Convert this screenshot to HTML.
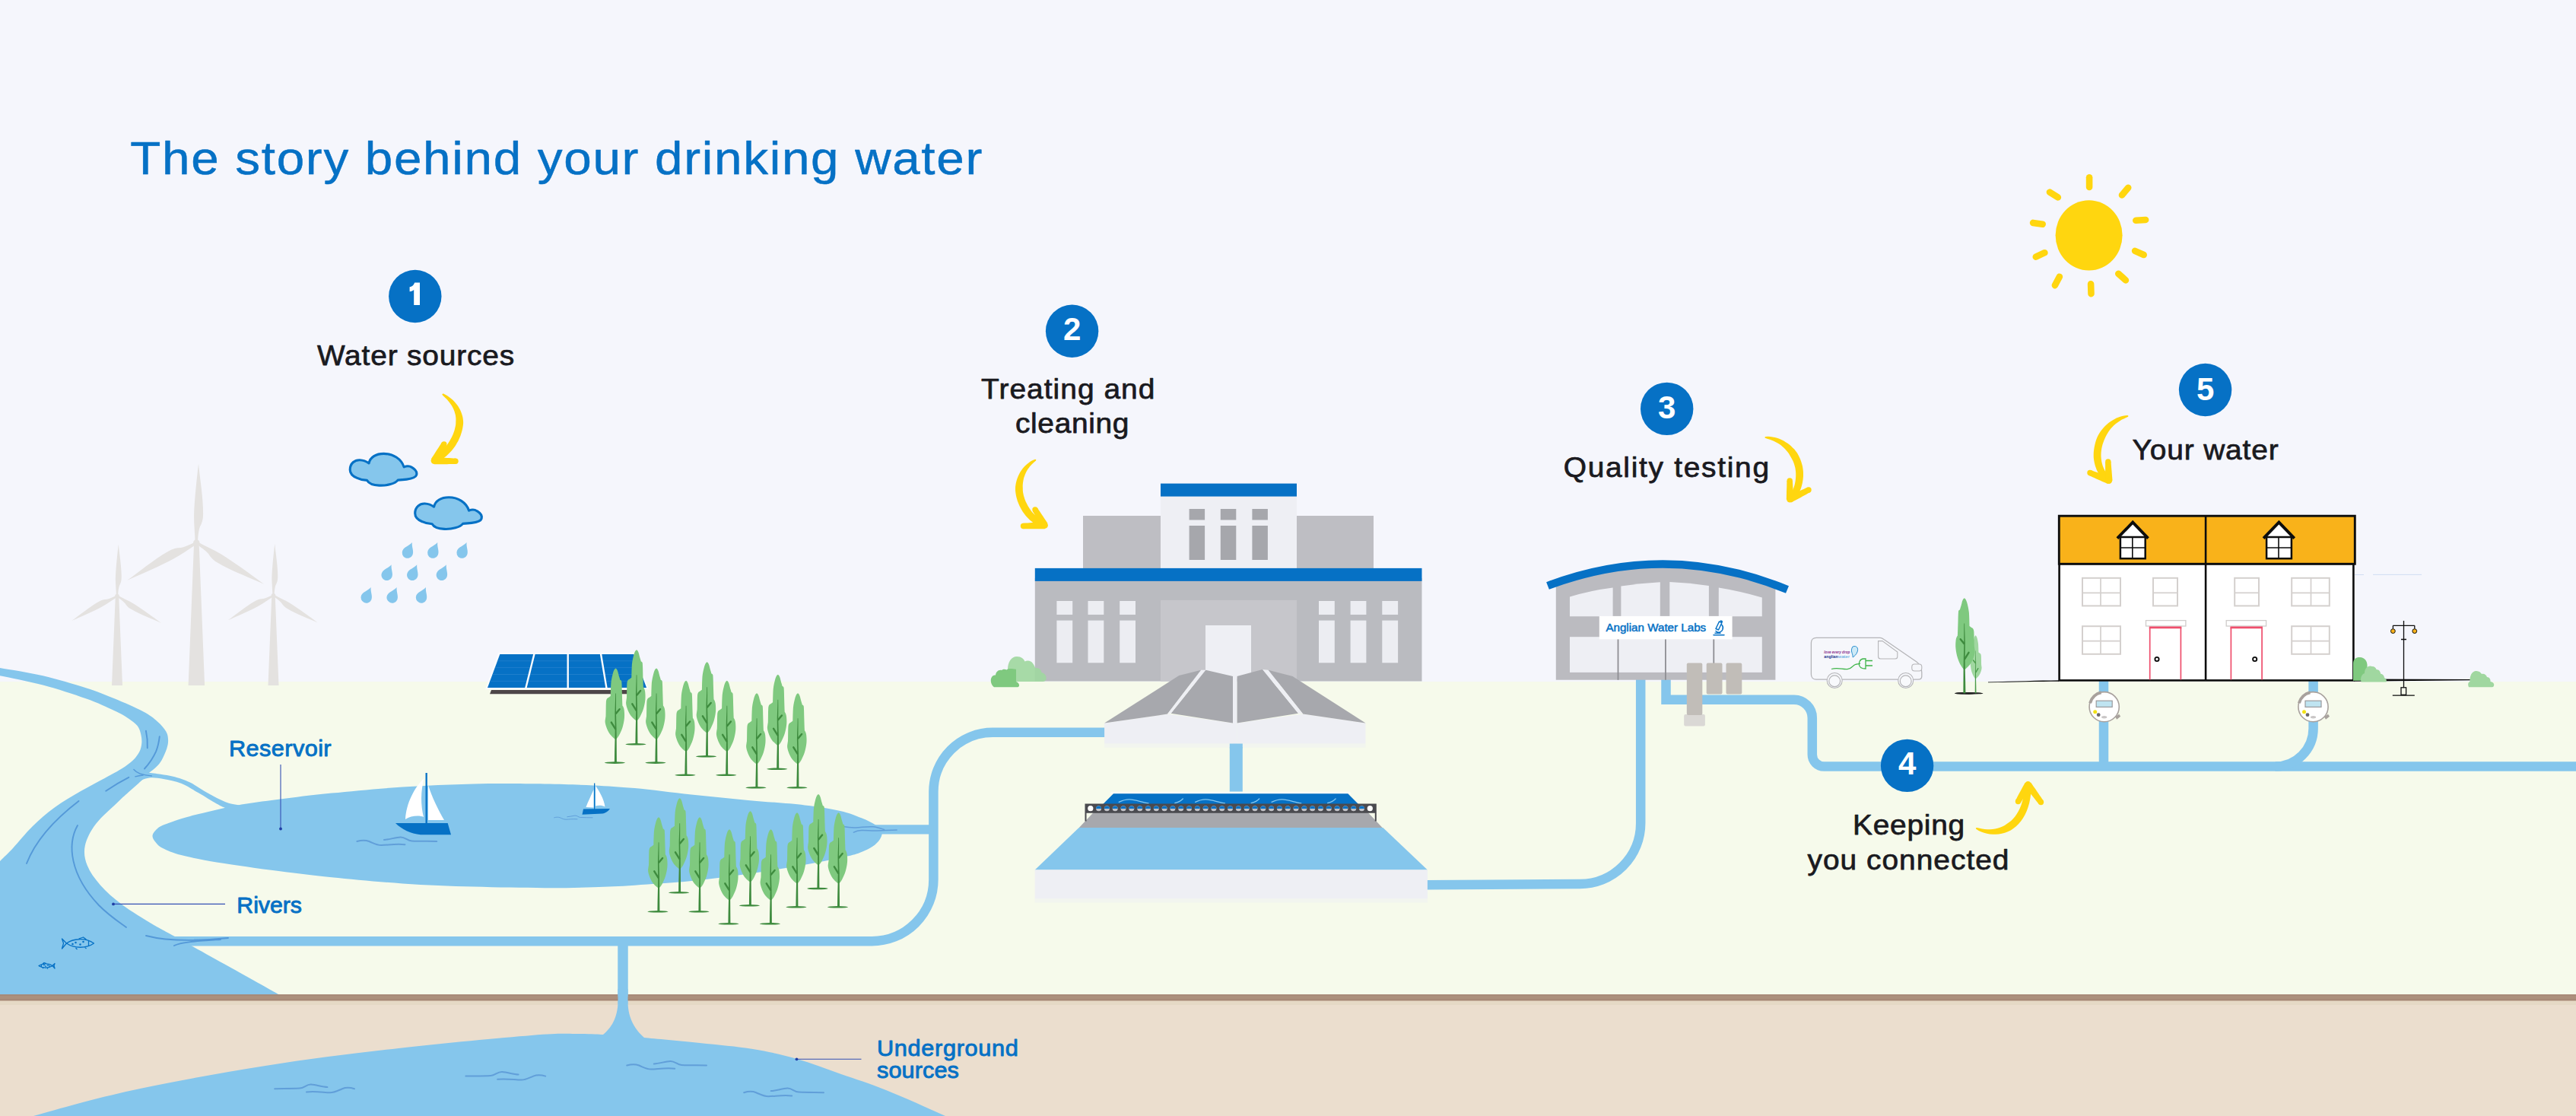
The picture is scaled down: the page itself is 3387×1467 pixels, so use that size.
<!DOCTYPE html>
<html lang="en"><head><meta charset="utf-8"><title>The story behind your drinking water</title>
<style>
html,body{margin:0;padding:0;background:#f5f6fc;}
body{width:3387px;height:1467px;overflow:hidden;font-family:"Liberation Sans",sans-serif;}
svg{display:block;font-family:"Liberation Sans",sans-serif;}
</style></head><body>
<svg width="3387" height="1467" viewBox="0 0 3387 1467">
<defs><symbol id="tree" overflow="visible"><ellipse cx="-1" cy="0" rx="13.6" ry="1.3" fill="#3e8b3e"/><path d="M0.2,-124 C2,-123 3,-120 3.6,-117 C4.6,-113 5.4,-111 5.9,-108.9 C7,-108.6 7.8,-108 7.9,-106.5 C8.3,-101 8.3,-97 8.4,-92.6 C8.6,-86 8.8,-80 9,-75 C10.2,-73.5 11.1,-71 11.3,-68.8 C11.7,-65 11.8,-62 11.5,-58.7 C11,-54 10.2,-50 9,-46.2 C7.8,-42.5 6.2,-39 4.6,-36.1 C3.6,-34.3 2.4,-32.6 1.5,-31.7 C0.6,-30.9 -0.7,-30.9 -1.6,-31.7 C-3.6,-33.4 -5.6,-35.4 -7.3,-37.4 C-9.4,-40.3 -11.1,-43.8 -12.3,-47.4 C-13.2,-50 -13.9,-52.5 -13.8,-55 C-13.7,-57 -13.1,-59 -12.9,-61.2 C-12.7,-67 -12.8,-74 -12.5,-80 C-12.3,-82.5 -11.5,-84.3 -10.4,-85 C-9,-86 -7.5,-86.8 -6.6,-87.6 C-6.5,-93 -6.4,-99 -6,-105 C-5.5,-109.5 -4.5,-114 -3.5,-117.7 C-2.7,-120.5 -1.5,-123.5 0.2,-124 Z" fill="#7fc97f"/><path d="M-1.5,0 C-1.4,-20 -0.2,-40 -0.9,-60 C-1.2,-70 -0.2,-80 -0.2,-91 L0.5,-91 C0.8,-80 0.4,-70 0.7,-60 C1.4,-40 1.3,-20 1.5,0 Z" fill="#3e8b3e"/><path d="M-0.3,-44.5 L-5.6,-53 M0.6,-64.8 L5.2,-70.4" stroke="#3e8b3e" stroke-width="2.4" fill="none" stroke-linecap="round"/></symbol><symbol id="treeB" overflow="visible"><ellipse cx="-1" cy="0" rx="13.6" ry="1.3" fill="#222"/><path d="M0.2,-124 C2,-123 3,-120 3.6,-117 C4.6,-113 5.4,-111 5.9,-108.9 C7,-108.6 7.8,-108 7.9,-106.5 C8.3,-101 8.3,-97 8.4,-92.6 C8.6,-86 8.8,-80 9,-75 C10.2,-73.5 11.1,-71 11.3,-68.8 C11.7,-65 11.8,-62 11.5,-58.7 C11,-54 10.2,-50 9,-46.2 C7.8,-42.5 6.2,-39 4.6,-36.1 C3.6,-34.3 2.4,-32.6 1.5,-31.7 C0.6,-30.9 -0.7,-30.9 -1.6,-31.7 C-3.6,-33.4 -5.6,-35.4 -7.3,-37.4 C-9.4,-40.3 -11.1,-43.8 -12.3,-47.4 C-13.2,-50 -13.9,-52.5 -13.8,-55 C-13.7,-57 -13.1,-59 -12.9,-61.2 C-12.7,-67 -12.8,-74 -12.5,-80 C-12.3,-82.5 -11.5,-84.3 -10.4,-85 C-9,-86 -7.5,-86.8 -6.6,-87.6 C-6.5,-93 -6.4,-99 -6,-105 C-5.5,-109.5 -4.5,-114 -3.5,-117.7 C-2.7,-120.5 -1.5,-123.5 0.2,-124 Z" fill="#7fc97f"/><path d="M-1.5,0 C-1.4,-20 -0.2,-40 -0.9,-60 C-1.2,-70 -0.2,-80 -0.2,-91 L0.5,-91 C0.8,-80 0.4,-70 0.7,-60 C1.4,-40 1.3,-20 1.5,0 Z" fill="#3e8b3e"/><path d="M-0.3,-44.5 L-5.6,-53 M0.6,-64.8 L5.2,-70.4" stroke="#3e8b3e" stroke-width="2.4" fill="none" stroke-linecap="round"/></symbol><symbol id="treeL" overflow="visible"><ellipse cx="-1" cy="0" rx="13.6" ry="1.3" fill="#222"/><path d="M0.2,-124 C2,-123 3,-120 3.6,-117 C4.6,-113 5.4,-111 5.9,-108.9 C7,-108.6 7.8,-108 7.9,-106.5 C8.3,-101 8.3,-97 8.4,-92.6 C8.6,-86 8.8,-80 9,-75 C10.2,-73.5 11.1,-71 11.3,-68.8 C11.7,-65 11.8,-62 11.5,-58.7 C11,-54 10.2,-50 9,-46.2 C7.8,-42.5 6.2,-39 4.6,-36.1 C3.6,-34.3 2.4,-32.6 1.5,-31.7 C0.6,-30.9 -0.7,-30.9 -1.6,-31.7 C-3.6,-33.4 -5.6,-35.4 -7.3,-37.4 C-9.4,-40.3 -11.1,-43.8 -12.3,-47.4 C-13.2,-50 -13.9,-52.5 -13.8,-55 C-13.7,-57 -13.1,-59 -12.9,-61.2 C-12.7,-67 -12.8,-74 -12.5,-80 C-12.3,-82.5 -11.5,-84.3 -10.4,-85 C-9,-86 -7.5,-86.8 -6.6,-87.6 C-6.5,-93 -6.4,-99 -6,-105 C-5.5,-109.5 -4.5,-114 -3.5,-117.7 C-2.7,-120.5 -1.5,-123.5 0.2,-124 Z" fill="#a0d7a0"/><path d="M-1.5,0 C-1.4,-20 -0.2,-40 -0.9,-60 C-1.2,-70 -0.2,-80 -0.2,-91 L0.5,-91 C0.8,-80 0.4,-70 0.7,-60 C1.4,-40 1.3,-20 1.5,0 Z" fill="#4a9a4a"/><path d="M-0.3,-44.5 L-5.6,-53 M0.6,-64.8 L5.2,-70.4" stroke="#4a9a4a" stroke-width="2.4" fill="none" stroke-linecap="round"/></symbol><symbol id="drop" overflow="visible"><path transform="rotate(24)" d="M0,-11.5 C1.5,-6 7.2,-2 7.2,3.3 A7.2,7.2 0 1 1 -7.2,3.3 C-7.2,-2 -1.5,-6 0,-11.5 Z" fill="#85c6ec"/></symbol><symbol id="cloud" overflow="visible"><path d="M1.6,22.5 C1.6,14 8,9.5 14.5,9.8 C19,10 23,11.5 26.5,14 C28,6 36,1.5 46,1.5 C58,1.5 69,8 72.5,19 C76,17.5 80,17.5 83,19.5 C88,22.5 90,26 89,29.5 C88,33 82,34.5 76,35.2 C72,35.7 68,36 64.5,36.2 C61,41 50,43.6 40,43.2 C32,42.8 26,40 24,36.5 C20,36.5 15,35.5 11,33.5 C5,31 1.6,27.5 1.6,22.5 Z" fill="#85c6ec" stroke="#0671c5" stroke-width="3.1" stroke-linejoin="round"/></symbol><symbol id="rotor" overflow="visible"><g fill="#e4e2e0"><path d="M-1.7,0 C-2.2,-12 -4,-24 -4.2,-36 C-4.2,-56 -1.6,-86 0,-104 C2,-86 7.4,-60 7.8,-38 C8,-31 6.6,-26 4,-21 C2.4,-16 1.7,-8 1.7,0 Z" transform="rotate(1.5)"/><path d="M-1.7,0 C-2.2,-12 -4,-24 -4.2,-36 C-4.2,-56 -1.6,-86 0,-104 C2,-86 7.4,-60 7.8,-38 C8,-31 6.6,-26 4,-21 C2.4,-16 1.7,-8 1.7,0 Z" transform="rotate(121.5)"/><path d="M-1.7,0 C-2.2,-12 -4,-24 -4.2,-36 C-4.2,-56 -1.6,-86 0,-104 C2,-86 7.4,-60 7.8,-38 C8,-31 6.6,-26 4,-21 C2.4,-16 1.7,-8 1.7,0 Z" transform="rotate(-118.5)"/><circle r="4.2"/></g></symbol><symbol id="ripple" overflow="visible"><path d="M0,0 C5,-1.5 11,-2 16,0 C22,2.5 26,5 32,5 C40,5 50,3 63,4.2 M35.6,-2.1 C42,-2.3 50,-5 57,-5.6 C63,-6 66,-1 72,-0.6 C84,0 95,-0.3 104.8,0" fill="none" stroke="#5a98d6" stroke-width="2" stroke-linecap="round" opacity="0.85"/></symbol><symbol id="meter" overflow="visible"><circle r="19.6" fill="#fff" stroke="#a8a19d" stroke-width="1.6"/><path d="M-18.6,-5 A19.3,19.3 0 0 1 -4,-18.9" fill="none" stroke="#a8a19d" stroke-width="4"/><path d="M14.5,13 L19.5,9.5 L21.5,12.5 L16.5,16.5 Z" fill="#a8a19d"/><rect x="-10.5" y="-8" width="21" height="8.2" fill="#bfe4f1" stroke="#9a9a9d" stroke-width="1.2"/><circle cx="-12" cy="6.5" r="2.5" fill="#f3e316"/><circle cx="-7.5" cy="10.5" r="2.4" fill="#6b676a"/><ellipse cx="0" cy="13.6" rx="3.6" ry="1.7" fill="#c9c6c6"/></symbol></defs>
<rect width="3387" height="1467" fill="#f5f6fc"/>
<rect x="0" y="896" width="3387" height="414" fill="#f6faeb"/>
<rect x="0" y="1314" width="3387" height="153" fill="#ebdece"/>
<rect x="0" y="1315" width="3387" height="6" fill="#e5d9c5"/>
<path d="M255.1,713.5 L261.6,713.5 L269.1,901 L247.6,901 Z" fill="#e4e2e0"/>
<use href="#rotor" transform="translate(258.3,713.5) scale(1.0)"/>
<path d="M151.8,783.5 L156.2,783.5 L161.0,901 L147.0,901 Z" fill="#e4e2e0"/>
<use href="#rotor" transform="translate(154,783.5) scale(0.655)"/>
<path d="M357.3,782.8 L361.7,782.8 L366.5,901 L352.5,901 Z" fill="#e4e2e0"/>
<use href="#rotor" transform="translate(359.5,782.8) scale(0.655)"/>
<path d="M-20.0,874.5 C-16.7,875.1 -12.7,875.6 0.0,877.9 C12.7,880.2 37.6,883.8 56.4,888.2 C75.2,892.6 97.2,899.2 112.9,904.2 C128.6,909.2 138.0,913.1 150.5,918.3 C163.0,923.5 178.7,930.3 188.1,935.3 C197.5,940.3 202.0,944.0 207.0,948.4 C212.0,952.8 216.0,957.5 218.3,961.6 C220.7,965.7 220.9,969.1 221.1,972.9 C221.2,976.7 220.6,979.8 219.2,984.2 C217.8,988.6 214.9,995.1 212.6,999.2 C210.2,1003.3 207.9,1005.8 205.1,1008.6 C202.3,1011.4 198.6,1013.6 195.7,1016.2 C192.8,1018.8 191.9,1020.5 187.8,1024.4 C183.7,1028.3 176.5,1034.5 171.0,1039.5 C165.5,1044.5 162.3,1047.2 154.8,1054.5 C147.3,1061.8 133.3,1073.5 126.1,1083.1 C118.9,1092.6 113.7,1102.7 111.8,1111.8 C109.9,1120.9 111.3,1129.0 114.7,1137.6 C118.1,1146.2 124.2,1154.8 131.9,1163.4 C139.6,1172.0 149.1,1180.6 160.6,1189.2 C172.1,1197.8 189.2,1208.1 200.7,1215.0 C212.2,1221.9 212.8,1221.6 229.4,1230.8 C246.0,1240.0 276.9,1257.1 300.0,1270.0 C323.1,1282.9 356.7,1301.7 368.0,1308.0 L368,1310 L-20,1310 L-20,1152  C-16.7,1148.7 -6.2,1138.1 0.0,1131.9 C6.2,1125.7 10.0,1122.4 17.2,1114.7 C24.4,1107.0 33.9,1094.8 43.0,1086.0 C52.1,1077.2 61.2,1069.2 71.7,1061.6 C82.2,1053.9 95.1,1046.5 106.1,1040.1 C117.1,1033.6 128.6,1027.8 137.6,1022.9 C146.6,1018.0 153.7,1014.5 159.9,1010.5 C166.1,1006.5 171.1,1003.0 175.0,999.2 C178.9,995.4 181.5,991.6 183.4,987.9 C185.3,984.1 186.0,980.5 186.3,976.7 C186.6,973.0 186.2,969.2 185.3,965.4 C184.4,961.6 183.3,957.5 180.6,954.1 C177.9,950.7 174.3,948.0 169.3,944.7 C164.3,941.4 159.9,938.7 150.5,934.3 C141.1,929.9 128.6,923.9 112.9,918.3 C97.2,912.7 75.2,905.5 56.4,900.5 C37.6,895.5 12.7,890.9 0.0,888.2 C-12.7,885.5 -16.7,885.1 -20.0,884.5 Z" fill="#85c6ec"/>
<path d="M185.0,1017.5 C186.5,1017.2 187.1,1015.3 194.0,1015.8 C200.9,1016.3 217.3,1018.4 226.6,1020.5 C235.9,1022.6 242.1,1024.9 249.9,1028.6 C257.7,1032.3 265.4,1038.3 273.2,1042.6 C281.0,1046.9 289.5,1051.6 296.5,1054.3 C303.5,1057.0 308.7,1057.5 315.1,1058.5 C321.5,1059.5 331.7,1059.8 335.0,1060.0 L335,1076  C329.0,1073.8 307.2,1066.3 298.8,1063.1 C290.4,1059.9 291.0,1060.0 284.8,1056.6 C278.6,1053.2 269.3,1047.1 261.5,1042.6 C253.7,1038.1 246.0,1032.9 238.2,1029.8 C230.4,1026.7 221.9,1025.2 214.9,1024.0 C207.9,1022.8 201.8,1021.9 196.0,1022.6 C190.2,1023.3 182.7,1027.1 180.0,1028.0 Z" fill="#85c6ec"/>
<path d="M200.5,1098.5 C200.7,1095.8 202.9,1092.9 205.5,1090.5 C208.1,1088.1 208.6,1086.9 216.0,1084.0 C223.4,1081.1 234.2,1077.1 249.9,1072.9 C265.6,1068.7 291.0,1062.6 310.4,1058.9 C329.8,1055.2 345.4,1053.5 366.4,1050.8 C387.4,1048.1 409.0,1045.3 436.2,1042.6 C463.4,1039.9 498.3,1036.5 529.4,1034.5 C560.5,1032.5 591.5,1031.2 622.6,1030.5 C653.7,1029.8 689.6,1030.2 715.8,1030.5 C742.0,1030.8 760.2,1031.5 780.0,1032.4 C799.8,1033.3 813.0,1034.1 834.5,1036.1 C856.0,1038.1 884.2,1041.9 909.1,1044.5 C934.0,1047.1 958.8,1049.6 983.6,1051.9 C1008.4,1054.2 1037.9,1056.1 1058.1,1058.4 C1078.3,1060.7 1092.3,1063.1 1104.7,1065.9 C1117.1,1068.7 1124.9,1072.1 1132.7,1075.2 C1140.5,1078.3 1146.8,1081.5 1151.3,1084.5 C1155.8,1087.5 1158.6,1089.9 1159.5,1093.0 C1160.4,1096.1 1158.9,1100.0 1156.9,1103.2 C1154.9,1106.5 1151.6,1109.7 1147.6,1112.5 C1143.6,1115.3 1138.3,1117.7 1132.7,1119.9 C1127.1,1122.1 1126.4,1122.7 1114.0,1125.5 C1101.6,1128.3 1079.8,1132.8 1058.1,1136.7 C1036.4,1140.6 1008.4,1145.2 983.6,1148.8 C958.8,1152.4 934.0,1155.6 909.1,1158.1 C884.2,1160.6 856.0,1162.3 834.5,1163.7 C813.0,1165.1 799.8,1165.6 780.0,1166.2 C760.2,1166.8 742.0,1167.3 715.8,1167.2 C689.6,1167.1 653.7,1166.6 622.6,1165.6 C591.5,1164.6 560.5,1163.5 529.4,1161.4 C498.3,1159.4 463.4,1156.0 436.2,1153.3 C409.0,1150.6 391.6,1148.4 366.4,1145.1 C341.2,1141.8 306.2,1137.0 284.8,1133.5 C263.4,1130.0 250.0,1127.2 238.2,1124.1 C226.4,1121.0 219.6,1117.8 214.0,1115.0 C208.4,1112.2 206.8,1109.8 204.5,1107.0 C202.2,1104.2 200.3,1101.2 200.5,1098.5 Z" fill="#85c6ec"/>
<path d="M-30.0,1490.0 C-17.7,1486.2 9.8,1476.5 44.0,1467.0 C78.2,1457.5 124.2,1444.0 175.0,1433.0 C225.8,1422.0 290.8,1410.2 349.0,1401.0 C407.2,1391.8 465.7,1384.7 524.0,1378.0 C582.3,1371.3 659.7,1364.2 699.0,1361.0 C738.3,1357.8 744.3,1359.2 760.0,1359.0 C775.7,1358.8 787.5,1359.8 793.0,1360.0 C803,1352 812.5,1338 812.5,1316 L812.5,1240 L825.5,1240 L825.5,1316 C825.5,1340 836,1354 847,1364  C859.2,1365.2 896.2,1368.5 920.0,1371.0 C943.8,1373.5 968.7,1375.5 990.0,1379.0 C1011.3,1382.5 1028.7,1386.5 1048.0,1392.0 C1067.3,1397.5 1086.5,1405.2 1106.0,1412.0 C1125.5,1418.8 1142.2,1423.8 1165.0,1433.0 C1187.8,1442.2 1220.5,1456.7 1243.0,1467.0 C1265.5,1477.3 1290.5,1490.3 1300.0,1495.0 L1300,1500 L-30,1500 Z" fill="#85c6ec"/>
<rect x="0" y="1307.3" width="3387" height="8" fill="#ac907c"/>
<rect x="0" y="1307.3" width="3387" height="1.6" fill="#a68876"/><rect x="0" y="1313.2" width="3387" height="2.1" fill="#a68876"/>
<rect x="812.5" y="1300" width="13" height="20" fill="#85c6ec"/>
<path d="M225,1237.2 H1146.4 A81,81 0 0 0 1227.4,1156.2 V1040.8 A78,78 0 0 1 1305.4,962.8 H1453" fill="none" stroke="#85c6ec" stroke-width="12.5" />
<path d="M1150,1090.3 H1227.4" fill="none" stroke="#85c6ec" stroke-width="12.3" />
<path d="M819,1237 V1310" fill="none" stroke="#85c6ec" stroke-width="13" />
<path d="M1625.3,982 V1040.8" fill="none" stroke="#85c6ec" stroke-width="17" />
<path d="M1876,1163.2 L2000,1162.4 L2077,1162 A80,80 0 0 0 2157.2,1082 V893" fill="none" stroke="#85c6ec" stroke-width="12.5" />
<path d="M2190.5,893 V919.7 H2358.8 A24,24 0 0 1 2382.8,943.7 V992 A15.5,15.5 0 0 0 2398.3,1007.5 H3400" fill="none" stroke="#85c6ec" stroke-width="12.5" />
<path d="M2766,894 V1007.5" fill="none" stroke="#85c6ec" stroke-width="12.5" />
<path d="M3041.6,894 V957.5 A50,50 0 0 1 2991.6,1007.5" fill="none" stroke="#85c6ec" stroke-width="12.5" />
<path d="M191.9,960.7 C193.5,968 194.2,976 193.8,983.2" fill="none" stroke="#4f93d6" stroke-width="1.9" stroke-linecap="round" opacity="0.9" />
<path d="M209.8,968.2 C209,975 207.5,982 205.1,987.9 C201,997 196,1004 190,1010.5" fill="none" stroke="#4f93d6" stroke-width="1.9" stroke-linecap="round" opacity="0.9" />
<path d="M175.9,1011.5 C178,1014 181,1016 184.4,1017.1 C189,1018.6 194,1019.5 199.4,1019.9" fill="none" stroke="#4f93d6" stroke-width="1.3" stroke-linecap="round" opacity="0.9" />
<path d="M177.8,1020.9 C181,1020 184.5,1019.3 188.1,1019" fill="none" stroke="#4f93d6" stroke-width="1.3" stroke-linecap="round" opacity="0.9" />
<path d="M169.3,1021.8 C159,1027 149,1033 139.2,1039.7" fill="none" stroke="#4f93d6" stroke-width="1.9" stroke-linecap="round" opacity="0.9" />
<path d="M103.5,1052.9 C72,1077 47,1104 35,1135" fill="none" stroke="#4f93d6" stroke-width="1.9" stroke-linecap="round" opacity="0.9" />
<path d="M102,1085 C88,1110 92,1150 130,1190 C145,1205 158,1213 166,1219" fill="none" stroke="#4f93d6" stroke-width="1.9" stroke-linecap="round" opacity="0.9" />
<path d="M192,1230 C215,1236 250,1238 300,1233" fill="none" stroke="#4f93d6" stroke-width="1.9" stroke-linecap="round" opacity="0.9" />
<path d="M229,1243 C240,1238 260,1237 290,1235" fill="none" stroke="#4f93d6" stroke-width="1.9" stroke-linecap="round" opacity="0.9" />
<use href="#ripple" transform="translate(469.4,1106)"/>
<use href="#ripple" transform="translate(728.7,1074.8) scale(0.48)"/>
<path d="M1110.3,1086.8 C1115,1087.8 1120,1088 1125.2,1087.9 C1133,1087.6 1140,1086.4 1147.6,1086.8 C1153,1087.2 1158,1089 1162.5,1090.5" fill="none" stroke="#5a98d6" stroke-width="1.5" stroke-linecap="round" opacity="0.85" />
<path d="M1122.4,1094.2 C1125.5,1092.6 1129,1091.8 1132.7,1091.6 C1139,1091.4 1145,1092.2 1151.3,1092 C1161,1091.7 1170,1091.2 1179.2,1091" fill="none" stroke="#5a98d6" stroke-width="1.5" stroke-linecap="round" opacity="0.85" />
<use href="#ripple" transform="translate(466,1431.2) scale(-1,1)"/>
<use href="#ripple" transform="translate(717.2,1414.6) scale(-1,1)"/>
<use href="#ripple" transform="translate(824.2,1400.5)"/>
<use href="#ripple" transform="translate(978.2,1436.2)"/>
<g transform="translate(103.5,1240) scale(1.0,1.0)" fill="none" stroke="#0671c5" stroke-width="1.30" stroke-linejoin="round"><path d="M-22,-6 L-16,0 L-22,7 L-20,0 Z M-16,0 C-8,-6 8,-8 20,0 C10,7 -6,7 -16,0 Z M0,-6 L6,-8 L10,-5 M-4,6 L-2,8 M8,5 L10,7 M13,-3 L13,3"/><circle cx="-4" cy="-1" r="0.6" fill="#0671c5"/><circle cx="2" cy="1.5" r="0.6" fill="#0671c5"/><circle cx="6" cy="-2" r="0.6" fill="#0671c5"/><circle cx="-8" cy="1" r="0.6" fill="#0671c5"/></g>
<g transform="translate(61,1269.5) scale(-0.5,0.5)" fill="none" stroke="#0671c5" stroke-width="2.60" stroke-linejoin="round"><path d="M-22,-6 L-16,0 L-22,7 L-20,0 Z M-16,0 C-8,-6 8,-8 20,0 C10,7 -6,7 -16,0 Z M0,-6 L6,-8 L10,-5 M-4,6 L-2,8 M8,5 L10,7 M13,-3 L13,3"/><circle cx="-4" cy="-1" r="0.6" fill="#0671c5"/><circle cx="2" cy="1.5" r="0.6" fill="#0671c5"/><circle cx="6" cy="-2" r="0.6" fill="#0671c5"/><circle cx="-8" cy="1" r="0.6" fill="#0671c5"/></g>
<polygon points="646,907 836,907 836,912.3 644,912.3" fill="#4d4648"/>
<polygon points="655.3,858 835.4,858 853.1,906.2 638,906.2" fill="#fbfcfe"/>
<polygon points="657.3,860 833.4,860 850.1,904.1 641,904.1" fill="#0671c5"/>
<path d="M654.0,868.8 L836.7,868.8 M650.8,877.6 L840.1,877.6 M647.5,886.5 L843.4,886.5 M644.3,895.3 L846.8,895.3" stroke="#3d8fd6" stroke-width="0.8" opacity="0.55" fill="none"/>
<line x1="702.5" y1="859.5" x2="691.3" y2="904.6" stroke="#fbfcfe" stroke-width="2.4"/>
<line x1="746.7" y1="859.5" x2="746.7" y2="904.6" stroke="#fbfcfe" stroke-width="2.4"/>
<line x1="790" y1="859.5" x2="797.5" y2="904.6" stroke="#fbfcfe" stroke-width="2.4"/>
<use href="#tree" x="836.9" y="978.3"/>
<use href="#tree" x="809.4" y="1002.6"/>
<use href="#tree" x="862.9" y="1002.6"/>
<use href="#tree" x="929.5" y="994.3"/>
<use href="#tree" x="901.9" y="1018.8"/>
<use href="#tree" x="955.7" y="1018.8"/>
<use href="#tree" x="1022.7" y="1010.8"/>
<use href="#tree" x="994.9" y="1035.3"/>
<use href="#tree" x="1048.9" y="1035.3"/>
<use href="#tree" x="893.6" y="1173.3"/>
<use href="#tree" x="865.9" y="1198.3"/>
<use href="#tree" x="919.9" y="1198.3"/>
<use href="#tree" x="986.4" y="1190.3"/>
<use href="#tree" x="958.9" y="1214.3"/>
<use href="#tree" x="1013.4" y="1214.3"/>
<use href="#tree" x="1075.9" y="1168.0"/>
<use href="#tree" x="1047.9" y="1192.3"/>
<use href="#tree" x="1102.5" y="1192.3"/>
<path d="M557.5,1023 C545,1035 534,1056 533,1077 C540,1072 552,1071.5 557,1074 C553,1058 553,1040 557.5,1023 Z" fill="#fff"/>
<path d="M563,1032 C568,1048 576,1064 584,1078 L563,1078 Z" fill="#fff"/>
<rect x="559.5" y="1016" width="2.3" height="66" fill="#0671c5"/>
<path d="M520,1082 L588.7,1082 L593,1097.2 L553,1097.2 C540,1096 528,1090 520,1082 Z" fill="#0671c5"/>
<path d="M780.5,1038 C777,1046 773,1054 770.5,1061 L780.5,1061.5 Z" fill="#fff"/>
<path d="M783,1033 C788,1040 794,1050 795.5,1060.5 C792,1058.5 787,1058.5 783,1059.5 Z" fill="#fff"/>
<rect x="781" y="1029.5" width="1.3" height="34.5" fill="#0671c5"/>
<path d="M767,1063.4 L802,1063 C800,1066 796,1069 792,1069.6 L765.5,1070.8 Z" fill="#0671c5"/>
<use href="#cloud" x="458.6" y="594.9"/>
<use href="#cloud" x="544.1" y="652.2"/>
<use href="#drop" x="537.2" y="723.6"/>
<use href="#drop" x="570.6" y="723.6"/>
<use href="#drop" x="608.9" y="723.6"/>
<use href="#drop" x="510" y="752.8"/>
<use href="#drop" x="543.6" y="752.8"/>
<use href="#drop" x="582.2" y="752.8"/>
<use href="#drop" x="483" y="782.5"/>
<use href="#drop" x="517" y="782.5"/>
<use href="#drop" x="555.3" y="782.5"/>
<ellipse cx="2746.6" cy="309.3" rx="44" ry="46.1" fill="#ffd60f"/>
<line x1="2747.1" y1="233.2" x2="2747.1" y2="246.0" stroke="#ffd60f" stroke-width="8.6" stroke-linecap="round"/>
<line x1="2790.0" y1="256.5" x2="2798.2" y2="246.7" stroke="#ffd60f" stroke-width="8.6" stroke-linecap="round"/>
<line x1="2808.3" y1="289.8" x2="2821.1" y2="289.0" stroke="#ffd60f" stroke-width="8.6" stroke-linecap="round"/>
<line x1="2807.1" y1="329.8" x2="2818.7" y2="335.0" stroke="#ffd60f" stroke-width="8.6" stroke-linecap="round"/>
<line x1="2785.3" y1="359.8" x2="2794.9" y2="368.4" stroke="#ffd60f" stroke-width="8.6" stroke-linecap="round"/>
<line x1="2749.1" y1="373.3" x2="2749.5" y2="386.1" stroke="#ffd60f" stroke-width="8.6" stroke-linecap="round"/>
<line x1="2701.9" y1="375.1" x2="2707.9" y2="363.7" stroke="#ffd60f" stroke-width="8.6" stroke-linecap="round"/>
<line x1="2676.8" y1="337.6" x2="2688.4" y2="332.2" stroke="#ffd60f" stroke-width="8.6" stroke-linecap="round"/>
<line x1="2673.1" y1="292.9" x2="2685.7" y2="294.7" stroke="#ffd60f" stroke-width="8.6" stroke-linecap="round"/>
<line x1="2695.0" y1="252.6" x2="2705.8" y2="259.4" stroke="#ffd60f" stroke-width="8.6" stroke-linecap="round"/>
<g fill="#ffd60f"><path d="M581.9,519.4 L583.7,521.2 L585.5,522.9 L587.2,524.6 L588.7,526.3 L590.1,528.0 L591.5,529.7 L592.7,531.4 L593.8,533.1 L594.8,534.8 L595.7,536.5 L596.5,538.2 L597.2,539.9 L597.7,541.6 L598.2,543.3 L598.7,545.0 L599.0,546.6 L599.2,548.3 L599.4,549.9 L599.4,551.5 L599.4,553.1 L599.3,554.6 L599.3,556.2 L599.2,557.7 L599.0,559.2 L598.6,561.3 L598.1,563.3 L597.6,565.4 L596.9,567.4 L596.2,569.4 L595.4,571.4 L594.5,573.4 L593.5,575.4 L592.5,577.3 L591.4,579.2 L590.3,581.1 L589.0,582.9 L587.8,584.7 L586.5,586.4 L585.1,588.1 L583.7,589.7 L582.2,591.2 L580.7,592.7 L579.2,594.1 L577.6,595.4 L576.0,596.6 L574.4,597.7 L572.7,598.7 L571.0,599.7 L575.0,607.3 L577.0,606.3 L579.0,605.1 L581.0,603.9 L583.0,602.5 L584.9,601.0 L586.8,599.5 L588.6,597.8 L590.4,596.1 L592.1,594.3 L593.8,592.4 L595.4,590.5 L596.9,588.5 L598.4,586.4 L599.8,584.3 L601.0,582.1 L602.3,579.9 L603.4,577.6 L604.4,575.3 L605.4,572.9 L606.2,570.5 L607.0,568.1 L607.6,565.7 L608.2,563.2 L608.6,560.8 L608.9,558.8 L609.1,556.7 L609.1,554.7 L609.0,552.7 L608.7,550.6 L608.4,548.6 L607.9,546.5 L607.3,544.5 L606.6,542.5 L605.8,540.6 L604.9,538.6 L603.9,536.7 L602.8,534.8 L601.6,533.0 L600.2,531.2 L598.8,529.4 L597.2,527.7 L595.6,526.0 L593.8,524.4 L591.9,522.9 L589.9,521.4 L587.8,520.0 L585.5,518.7 L583.1,517.6 Z"/><circle cx="582.5" cy="518.5" r="1.1"/><path d="M575.0,608.0 L576.2,605.8 L577.4,603.6 L578.7,601.4 L579.9,599.2 L581.0,597.0 L582.2,594.7 L583.4,592.5 L584.6,590.3 L585.8,588.1 L587.0,585.9 L580.6,582.1 L579.2,584.2 L577.9,586.3 L576.5,588.4 L575.1,590.5 L573.8,592.6 L572.4,594.7 L571.0,596.9 L569.7,599.0 L568.3,601.1 L567.0,603.2 Z"/><circle cx="583.8" cy="584.0" r="3.7"/><path d="M570.9,610.3 L573.7,610.3 L576.5,610.3 L579.3,610.2 L582.1,610.2 L584.9,610.2 L587.7,610.2 L590.5,610.1 L593.3,610.1 L596.1,610.0 L598.9,610.0 L599.1,602.6 L596.3,602.4 L593.5,602.2 L590.7,602.1 L587.9,601.9 L585.1,601.7 L582.3,601.5 L579.5,601.4 L576.7,601.2 L573.9,601.1 L571.1,600.9 Z"/><circle cx="599.0" cy="606.3" r="3.7"/><circle cx="571.0" cy="605.6" r="4.4"/></g>
<g fill="#ffd60f"><path d="M1360.6,603.9 L1358.4,604.7 L1356.3,605.8 L1354.3,607.1 L1352.4,608.4 L1350.5,609.9 L1348.8,611.4 L1347.2,613.0 L1345.6,614.8 L1344.2,616.6 L1342.8,618.4 L1341.6,620.3 L1340.5,622.3 L1339.4,624.4 L1338.5,626.4 L1337.7,628.6 L1336.9,630.7 L1336.3,632.9 L1335.8,635.1 L1335.4,637.4 L1335.1,639.6 L1335.0,641.9 L1335.0,644.2 L1335.2,646.5 L1335.5,648.7 L1335.9,651.2 L1336.4,653.6 L1337.1,656.1 L1337.8,658.4 L1338.7,660.8 L1339.6,663.1 L1340.7,665.4 L1341.8,667.6 L1343.0,669.8 L1344.3,671.9 L1345.7,674.0 L1347.2,675.9 L1348.7,677.9 L1350.3,679.7 L1352.0,681.5 L1353.7,683.2 L1355.5,684.8 L1357.4,686.3 L1359.2,687.8 L1361.2,689.1 L1363.1,690.3 L1365.2,691.5 L1367.2,692.5 L1369.2,693.4 L1372.8,685.6 L1371.1,684.7 L1369.4,683.8 L1367.8,682.8 L1366.2,681.7 L1364.7,680.6 L1363.2,679.3 L1361.7,678.0 L1360.2,676.5 L1358.8,675.0 L1357.4,673.5 L1356.1,671.9 L1354.9,670.2 L1353.7,668.5 L1352.6,666.7 L1351.5,664.9 L1350.5,663.0 L1349.5,661.1 L1348.6,659.2 L1347.8,657.3 L1347.1,655.3 L1346.5,653.3 L1345.9,651.3 L1345.5,649.3 L1345.1,647.3 L1344.9,645.5 L1344.8,643.7 L1344.8,641.9 L1344.7,640.1 L1344.7,638.3 L1344.8,636.4 L1345.0,634.6 L1345.3,632.7 L1345.6,630.9 L1346.0,629.0 L1346.5,627.2 L1347.2,625.4 L1347.9,623.6 L1348.7,621.8 L1349.5,620.0 L1350.5,618.3 L1351.6,616.6 L1352.8,615.0 L1354.0,613.3 L1355.4,611.8 L1356.8,610.2 L1358.4,608.7 L1360.0,607.3 L1361.8,605.7 Z"/><circle cx="1361.2" cy="604.8" r="1.1"/><path d="M1377.5,688.1 L1376.2,686.1 L1374.9,684.0 L1373.5,682.0 L1372.2,680.0 L1370.9,678.0 L1369.5,676.0 L1368.2,674.1 L1366.9,672.1 L1365.5,670.1 L1364.2,668.1 L1357.8,671.9 L1359.0,674.0 L1360.1,676.1 L1361.3,678.2 L1362.5,680.4 L1363.6,682.5 L1364.8,684.6 L1366.0,686.7 L1367.1,688.8 L1368.3,690.8 L1369.5,692.9 Z"/><circle cx="1361.0" cy="670.0" r="3.7"/><path d="M1373.3,685.8 L1370.5,686.0 L1367.7,686.2 L1364.9,686.4 L1362.1,686.6 L1359.3,686.8 L1356.6,687.0 L1353.8,687.2 L1351.0,687.4 L1348.2,687.6 L1345.4,687.8 L1345.6,695.2 L1348.4,695.2 L1351.2,695.2 L1354.0,695.2 L1356.8,695.2 L1359.7,695.2 L1362.5,695.2 L1365.3,695.2 L1368.1,695.2 L1370.9,695.2 L1373.7,695.2 Z"/><circle cx="1345.5" cy="691.5" r="3.7"/><circle cx="1373.5" cy="690.5" r="4.4"/></g>
<g fill="#ffd60f"><path d="M2321.5,576.1 L2324.3,576.9 L2327.0,577.7 L2329.6,578.7 L2332.1,579.7 L2334.5,580.9 L2336.9,582.2 L2339.1,583.6 L2341.3,585.1 L2343.3,586.7 L2345.3,588.5 L2347.1,590.3 L2348.8,592.2 L2350.5,594.2 L2352.0,596.3 L2353.3,598.5 L2354.6,600.7 L2355.9,602.9 L2357.1,605.2 L2358.1,607.6 L2359.0,610.0 L2359.7,612.5 L2360.4,615.1 L2360.8,617.7 L2361.1,620.4 L2361.2,622.1 L2361.2,623.9 L2361.2,625.7 L2361.1,627.4 L2361.0,629.2 L2360.8,630.8 L2360.6,632.5 L2360.3,634.1 L2360.0,635.7 L2359.6,637.2 L2359.2,638.7 L2358.8,640.1 L2358.3,641.5 L2357.8,642.8 L2357.3,644.0 L2356.7,645.2 L2356.2,646.3 L2355.6,647.3 L2355.0,648.3 L2354.4,649.2 L2353.9,649.9 L2353.3,650.6 L2352.8,651.2 L2352.1,651.8 L2357.9,658.2 L2358.7,657.5 L2359.7,656.5 L2360.6,655.5 L2361.5,654.4 L2362.3,653.2 L2363.2,652.0 L2364.0,650.7 L2364.7,649.3 L2365.5,647.9 L2366.2,646.3 L2366.8,644.8 L2367.5,643.1 L2368.1,641.4 L2368.6,639.7 L2369.1,637.9 L2369.6,636.0 L2370.0,634.1 L2370.3,632.2 L2370.6,630.2 L2370.8,628.2 L2371.0,626.1 L2371.0,624.0 L2371.0,621.9 L2370.9,619.6 L2370.5,616.3 L2370.0,613.1 L2369.2,610.0 L2368.3,606.9 L2367.2,603.9 L2365.9,601.0 L2364.5,598.2 L2363.0,595.5 L2361.1,593.0 L2359.2,590.6 L2357.0,588.4 L2354.8,586.3 L2352.5,584.3 L2350.0,582.5 L2347.5,580.9 L2344.9,579.3 L2342.2,578.0 L2339.4,576.8 L2336.6,575.8 L2333.7,575.0 L2330.7,574.4 L2327.7,574.0 L2324.7,573.8 L2321.7,573.9 Z"/><circle cx="2321.6" cy="575.0" r="1.1"/><path d="M2358.2,656.1 L2358.1,653.7 L2358.0,651.3 L2357.8,648.9 L2357.7,646.5 L2357.6,644.0 L2357.5,641.6 L2357.3,639.2 L2357.2,636.8 L2357.0,634.4 L2356.9,632.0 L2349.5,632.0 L2349.4,634.5 L2349.3,636.9 L2349.3,639.3 L2349.2,641.7 L2349.1,644.2 L2349.0,646.6 L2349.0,649.0 L2348.9,651.4 L2348.9,653.8 L2348.8,656.3 Z"/><circle cx="2353.2" cy="632.0" r="3.7"/><path d="M2355.6,660.4 L2358.0,659.1 L2360.4,657.8 L2362.8,656.5 L2365.2,655.2 L2367.6,653.9 L2370.0,652.6 L2372.4,651.3 L2374.8,650.0 L2377.2,648.6 L2379.6,647.3 L2376.4,640.7 L2373.9,641.8 L2371.4,642.9 L2368.9,644.1 L2366.4,645.2 L2363.9,646.3 L2361.4,647.4 L2358.9,648.6 L2356.4,649.7 L2353.9,650.9 L2351.4,652.0 Z"/><circle cx="2378.0" cy="644.0" r="3.7"/><circle cx="2353.5" cy="656.2" r="4.4"/></g>
<g fill="#ffd60f"><path d="M2797.0,545.9 L2794.1,546.2 L2791.2,546.7 L2788.4,547.5 L2785.6,548.5 L2782.8,549.6 L2780.2,550.9 L2777.6,552.4 L2775.1,554.0 L2772.6,555.8 L2770.3,557.7 L2768.1,559.8 L2766.0,562.0 L2763.9,564.4 L2762.1,566.8 L2760.3,569.4 L2758.7,572.2 L2757.4,575.1 L2756.2,578.1 L2755.2,581.2 L2754.4,584.4 L2753.7,587.7 L2753.2,591.0 L2752.8,594.4 L2752.7,597.9 L2752.7,599.9 L2752.8,601.8 L2753.0,603.7 L2753.3,605.5 L2753.6,607.3 L2754.0,609.1 L2754.4,610.8 L2754.9,612.5 L2755.5,614.2 L2756.1,615.8 L2756.7,617.4 L2757.4,618.9 L2758.2,620.4 L2758.9,621.8 L2759.7,623.2 L2760.6,624.5 L2761.4,625.8 L2762.3,627.1 L2763.3,628.2 L2764.2,629.4 L2765.2,630.4 L2766.2,631.4 L2767.2,632.4 L2768.1,633.2 L2773.9,626.8 L2773.1,626.1 L2772.4,625.3 L2771.6,624.5 L2770.9,623.7 L2770.2,622.8 L2769.5,621.8 L2768.9,620.8 L2768.2,619.8 L2767.6,618.7 L2767.0,617.5 L2766.4,616.3 L2765.8,615.1 L2765.3,613.8 L2764.8,612.5 L2764.4,611.2 L2764.0,609.8 L2763.7,608.5 L2763.3,607.0 L2763.1,605.6 L2762.9,604.1 L2762.7,602.6 L2762.6,601.1 L2762.5,599.6 L2762.5,598.1 L2762.6,595.1 L2762.9,592.2 L2763.3,589.4 L2763.9,586.7 L2764.6,584.0 L2765.5,581.4 L2766.4,578.9 L2767.5,576.5 L2768.6,574.1 L2769.8,571.7 L2771.1,569.4 L2772.5,567.2 L2774.1,565.1 L2775.7,563.1 L2777.4,561.2 L2779.3,559.3 L2781.3,557.6 L2783.3,555.9 L2785.5,554.4 L2787.7,552.9 L2790.0,551.6 L2792.5,550.4 L2795.0,549.2 L2797.6,548.1 Z"/><circle cx="2797.3" cy="547.0" r="1.1"/><path d="M2774.6,627.3 L2772.1,626.3 L2769.5,625.4 L2767.0,624.5 L2764.5,623.5 L2762.0,622.6 L2759.5,621.7 L2757.0,620.8 L2754.4,619.9 L2751.9,619.0 L2749.4,618.1 L2746.6,624.9 L2749.0,626.0 L2751.5,627.2 L2753.9,628.3 L2756.4,629.4 L2758.8,630.5 L2761.2,631.6 L2763.7,632.7 L2766.1,633.8 L2768.6,634.8 L2771.0,635.9 Z"/><circle cx="2748.0" cy="621.5" r="3.7"/><path d="M2777.5,631.4 L2777.3,629.0 L2777.1,626.5 L2776.9,624.0 L2776.7,621.6 L2776.5,619.1 L2776.3,616.7 L2776.1,614.2 L2775.9,611.8 L2775.7,609.3 L2775.5,606.8 L2768.1,607.2 L2768.1,609.6 L2768.1,612.1 L2768.1,614.5 L2768.1,617.0 L2768.1,619.5 L2768.1,621.9 L2768.1,624.4 L2768.1,626.9 L2768.1,629.3 L2768.1,631.8 Z"/><circle cx="2771.8" cy="607.0" r="3.7"/><circle cx="2772.8" cy="631.6" r="4.4"/></g>
<g fill="#ffd60f"><path d="M2598.6,1090.0 L2601.7,1092.0 L2605.1,1093.5 L2608.7,1094.8 L2612.4,1095.7 L2616.2,1096.4 L2620.1,1096.7 L2624.0,1096.7 L2628.0,1096.4 L2632.0,1095.8 L2636.0,1094.7 L2639.9,1093.3 L2643.7,1091.4 L2647.3,1089.0 L2650.8,1086.2 L2654.1,1083.0 L2657.1,1079.4 L2659.9,1075.4 L2662.5,1071.0 L2664.7,1066.2 L2666.6,1061.0 L2668.2,1055.5 L2669.4,1049.5 L2670.3,1043.1 L2670.8,1036.4 L2662.2,1035.6 L2661.5,1042.0 L2660.5,1047.8 L2659.1,1053.1 L2657.6,1058.0 L2655.8,1062.4 L2653.8,1066.5 L2651.7,1070.1 L2649.3,1073.4 L2646.9,1076.3 L2644.2,1078.9 L2641.5,1081.1 L2638.6,1083.1 L2635.8,1084.9 L2632.8,1086.4 L2629.7,1087.7 L2626.5,1088.8 L2623.3,1089.5 L2619.9,1090.0 L2616.6,1090.3 L2613.1,1090.3 L2609.7,1090.0 L2606.3,1089.5 L2602.9,1088.8 L2599.4,1088.0 Z"/><circle cx="2599.0" cy="1089.0" r="1.1"/><path d="M2662.5,1029.1 L2661.2,1031.4 L2660.0,1033.6 L2658.8,1035.8 L2657.6,1038.1 L2656.4,1040.3 L2655.1,1042.6 L2653.9,1044.8 L2652.7,1047.1 L2651.5,1049.4 L2650.3,1051.6 L2656.7,1055.4 L2658.1,1053.2 L2659.5,1051.1 L2660.9,1049.0 L2662.3,1046.8 L2663.6,1044.7 L2665.0,1042.5 L2666.4,1040.4 L2667.8,1038.2 L2669.2,1036.0 L2670.5,1033.9 Z"/><circle cx="2653.5" cy="1053.5" r="3.7"/><path d="M2662.8,1034.3 L2664.5,1036.5 L2666.3,1038.8 L2668.0,1041.0 L2669.8,1043.3 L2671.6,1045.5 L2673.4,1047.8 L2675.2,1050.0 L2676.9,1052.2 L2678.7,1054.5 L2680.5,1056.7 L2686.5,1052.3 L2684.9,1049.9 L2683.3,1047.6 L2681.6,1045.2 L2680.0,1042.8 L2678.4,1040.5 L2676.8,1038.1 L2675.2,1035.8 L2673.5,1033.4 L2671.9,1031.1 L2670.2,1028.7 Z"/><circle cx="2683.5" cy="1054.5" r="3.7"/><circle cx="2666.5" cy="1031.5" r="4.4"/></g>
<rect x="1424" y="678" width="382" height="70" fill="#bebec3"/>
<rect x="1526" y="650" width="179" height="98" fill="#eeeff4"/>
<rect x="1526" y="635.6" width="179" height="17" fill="#0671c5"/>
<rect x="1563.6" y="669" width="20.5" height="14.5" fill="#a6a7ac"/><rect x="1563.6" y="691" width="20.5" height="45" fill="#a6a7ac"/>
<rect x="1604.8" y="669" width="20.5" height="14.5" fill="#a6a7ac"/><rect x="1604.8" y="691" width="20.5" height="45" fill="#a6a7ac"/>
<rect x="1646.4" y="669" width="20.5" height="14.5" fill="#a6a7ac"/><rect x="1646.4" y="691" width="20.5" height="45" fill="#a6a7ac"/>
<rect x="1360.8" y="760" width="508.7" height="135.5" fill="#babbc0"/>
<rect x="1360.8" y="746.9" width="508.7" height="17" fill="#0671c5"/>
<rect x="1526" y="789" width="179" height="106.5" fill="#c6c6cb"/>
<rect x="1585" y="822" width="60" height="70" fill="#eeeff4"/>
<rect x="1389.4" y="790" width="20.8" height="18" fill="#ecedf2"/><rect x="1389.4" y="815.6" width="20.8" height="55.7" fill="#ecedf2"/>
<rect x="1430.5" y="790" width="20.8" height="18" fill="#ecedf2"/><rect x="1430.5" y="815.6" width="20.8" height="55.7" fill="#ecedf2"/>
<rect x="1472.2" y="790" width="20.8" height="18" fill="#ecedf2"/><rect x="1472.2" y="815.6" width="20.8" height="55.7" fill="#ecedf2"/>
<rect x="1734" y="790" width="20.8" height="18" fill="#ecedf2"/><rect x="1734" y="815.6" width="20.8" height="55.7" fill="#ecedf2"/>
<rect x="1775.6" y="790" width="20.8" height="18" fill="#ecedf2"/><rect x="1775.6" y="815.6" width="20.8" height="55.7" fill="#ecedf2"/>
<rect x="1817.3" y="790" width="20.8" height="18" fill="#ecedf2"/><rect x="1817.3" y="815.6" width="20.8" height="55.7" fill="#ecedf2"/>
<path d="M1325,896 V880 C1325,870 1330,863 1337,863 C1343,863 1346,866 1347.5,869.5 C1351,867.5 1356,868.5 1358,872 C1360,875 1361,877 1361,878 C1366,877.5 1369,880 1369.5,884 C1374,885 1376.5,889 1375.5,893 C1375,895 1373,896 1371,896 Z" fill="#a0d7a0" opacity="0.93"/>
<path d="M1307,903.3 C1303,900 1301.5,894 1304,890 C1305,888 1307,887.5 1309,887.5 C1309.5,883 1313,880 1317,881 C1319,879 1322,879.5 1323.5,880.5 C1326,878.5 1330,879 1336,879.7 V896 C1339,897 1340.5,899.5 1340,901.5 C1339.7,902.8 1338.5,903.3 1337,903.3 Z" fill="#7fc97f"/>
<rect x="1452" y="956" width="0" height="0"/>
<polygon points="1452.1,950.5 1535,938.6 1621,950.5 1621,977.5 1452.1,977.5" fill="#eeeff4"/>
<polygon points="1626.4,950.5 1713.2,938.6 1795.5,950.5 1795.5,977.5 1626.4,977.5" fill="#eeeff4"/>
<polygon points="1452.1,950.5 1550.2,888 1579.2,880.7 1535,938.6" fill="#a7a8ad"/>
<polygon points="1539.6,937.7 1585.3,880.7 1621,889 1621,950.5" fill="#a7a8ad"/>
<polygon points="1626.4,950.5 1626.4,889 1660,880.1 1707,937.7" fill="#a7a8ad"/>
<polygon points="1667.5,880.7 1699.5,889 1795.5,950.5 1713.2,938.6" fill="#a7a8ad"/>
<polygon points="1579.2,880.7 1585.3,880.7 1539.6,937.7 1535,938.6" fill="#eeeff4"/>
<polygon points="1660,880.1 1667.5,880.7 1713.2,938.6 1707,937.7" fill="#eeeff4"/>
<rect x="1621" y="886" width="5.4" height="92" fill="#eeeff4"/>
<rect x="1452.1" y="977.5" width="343.4" height="5" fill="#eeeff4" opacity="0.5"/>
<rect x="1616.8" y="977.5" width="17" height="6" fill="#85c6ec"/>
<polygon points="1461.5,1040.8 1774.6,1040.8 1777,1043.4 1459,1043.4" fill="#fcfdf8"/>
<polygon points="1464,1043.2 1772.3,1043.2 1789,1060 1447.3,1060" fill="#0671c5"/>
<path d="M1471.2,1054.3 C1476.0,1052 1480.0,1050.7 1485.0,1050.8 C1493.0,1051 1501.0,1054.5 1510.0,1056 M1544.8,1055.6 C1549.0,1054.5 1553.0,1052.5 1555.3,1050 M1571.6,1054.3 C1576.4,1052 1580.4,1050.7 1585.4,1050.8 C1593.4,1051 1601.4,1054.5 1610.4,1056 M1645.2,1055.6 C1649.4,1054.5 1653.4,1052.5 1655.7,1050 M1672.0,1054.3 C1676.8,1052 1680.8,1050.7 1685.8,1050.8 C1693.8,1051 1701.8,1054.5 1710.8,1056 M1745.6,1055.6 C1749.8,1054.5 1753.8,1052.5 1756.1,1050" fill="none" stroke="#86c8f0" stroke-width="1.3" stroke-linecap="round"/>
<polygon points="1437.7,1068 1798.6,1068 1817.6,1087.9 1418.8,1087.9" fill="#a7a8ad"/>
<polygon points="1418.6,1087.9 1818.4,1087.9 1876.9,1143.4 1360.7,1143.4" fill="#85c6ec"/>
<rect x="1360.7" y="1143.4" width="516.2" height="38" fill="#eeeff4"/>
<rect x="1360.7" y="1181.4" width="516.2" height="5" fill="#eeeff4" opacity="0.5"/>
<path d="M1426.5,1056.5 H1809.8 V1079.5 H1807.8 V1068.7 H1428.5 V1079.5 H1426.5 Z" fill="#4a4a4f"/>
<circle cx="1433.8" cy="1062.7" r="3.6" fill="#fff"/><circle cx="1444.6" cy="1062.7" r="3.5" fill="#c2c2c7"/><path d="M1441.1,1062.9 A3.5,3.5 0 0 1 1448.1,1062.9 Z" fill="#0671c5"/><circle cx="1455.4" cy="1062.7" r="3.5" fill="#c2c2c7"/><path d="M1451.9,1062.9 A3.5,3.5 0 0 1 1458.9,1062.9 Z" fill="#0671c5"/><circle cx="1466.2" cy="1062.7" r="3.5" fill="#c2c2c7"/><path d="M1462.7,1062.9 A3.5,3.5 0 0 1 1469.7,1062.9 Z" fill="#0671c5"/><circle cx="1477.0" cy="1062.7" r="3.5" fill="#c2c2c7"/><path d="M1473.5,1062.9 A3.5,3.5 0 0 1 1480.5,1062.9 Z" fill="#0671c5"/><circle cx="1487.8" cy="1062.7" r="3.5" fill="#c2c2c7"/><path d="M1484.3,1062.9 A3.5,3.5 0 0 1 1491.3,1062.9 Z" fill="#0671c5"/><circle cx="1498.7" cy="1062.7" r="3.5" fill="#c2c2c7"/><path d="M1495.2,1062.9 A3.5,3.5 0 0 1 1502.2,1062.9 Z" fill="#0671c5"/><circle cx="1509.5" cy="1062.7" r="3.5" fill="#c2c2c7"/><path d="M1506.0,1062.9 A3.5,3.5 0 0 1 1513.0,1062.9 Z" fill="#0671c5"/><circle cx="1520.3" cy="1062.7" r="3.5" fill="#c2c2c7"/><path d="M1516.8,1062.9 A3.5,3.5 0 0 1 1523.8,1062.9 Z" fill="#0671c5"/><circle cx="1531.1" cy="1062.7" r="3.5" fill="#c2c2c7"/><path d="M1527.6,1062.9 A3.5,3.5 0 0 1 1534.6,1062.9 Z" fill="#0671c5"/><circle cx="1541.9" cy="1062.7" r="3.5" fill="#c2c2c7"/><path d="M1538.4,1062.9 A3.5,3.5 0 0 1 1545.4,1062.9 Z" fill="#0671c5"/><circle cx="1552.7" cy="1062.7" r="3.5" fill="#c2c2c7"/><path d="M1549.2,1062.9 A3.5,3.5 0 0 1 1556.2,1062.9 Z" fill="#0671c5"/><circle cx="1563.5" cy="1062.7" r="3.5" fill="#c2c2c7"/><path d="M1560.0,1062.9 A3.5,3.5 0 0 1 1567.0,1062.9 Z" fill="#0671c5"/><circle cx="1574.3" cy="1062.7" r="3.5" fill="#c2c2c7"/><path d="M1570.8,1062.9 A3.5,3.5 0 0 1 1577.8,1062.9 Z" fill="#0671c5"/><circle cx="1585.1" cy="1062.7" r="3.5" fill="#c2c2c7"/><path d="M1581.6,1062.9 A3.5,3.5 0 0 1 1588.6,1062.9 Z" fill="#0671c5"/><circle cx="1595.9" cy="1062.7" r="3.5" fill="#c2c2c7"/><path d="M1592.4,1062.9 A3.5,3.5 0 0 1 1599.4,1062.9 Z" fill="#0671c5"/><circle cx="1606.7" cy="1062.7" r="3.5" fill="#c2c2c7"/><path d="M1603.2,1062.9 A3.5,3.5 0 0 1 1610.2,1062.9 Z" fill="#0671c5"/><circle cx="1617.5" cy="1062.7" r="3.5" fill="#c2c2c7"/><path d="M1614.0,1062.9 A3.5,3.5 0 0 1 1621.0,1062.9 Z" fill="#0671c5"/><circle cx="1628.4" cy="1062.7" r="3.5" fill="#c2c2c7"/><path d="M1624.9,1062.9 A3.5,3.5 0 0 1 1631.9,1062.9 Z" fill="#0671c5"/><circle cx="1639.2" cy="1062.7" r="3.5" fill="#c2c2c7"/><path d="M1635.7,1062.9 A3.5,3.5 0 0 1 1642.7,1062.9 Z" fill="#0671c5"/><circle cx="1650.0" cy="1062.7" r="3.5" fill="#c2c2c7"/><path d="M1646.5,1062.9 A3.5,3.5 0 0 1 1653.5,1062.9 Z" fill="#0671c5"/><circle cx="1660.8" cy="1062.7" r="3.5" fill="#c2c2c7"/><path d="M1657.3,1062.9 A3.5,3.5 0 0 1 1664.3,1062.9 Z" fill="#0671c5"/><circle cx="1671.6" cy="1062.7" r="3.5" fill="#c2c2c7"/><path d="M1668.1,1062.9 A3.5,3.5 0 0 1 1675.1,1062.9 Z" fill="#0671c5"/><circle cx="1682.4" cy="1062.7" r="3.5" fill="#c2c2c7"/><path d="M1678.9,1062.9 A3.5,3.5 0 0 1 1685.9,1062.9 Z" fill="#0671c5"/><circle cx="1693.2" cy="1062.7" r="3.5" fill="#c2c2c7"/><path d="M1689.7,1062.9 A3.5,3.5 0 0 1 1696.7,1062.9 Z" fill="#0671c5"/><circle cx="1704.0" cy="1062.7" r="3.5" fill="#c2c2c7"/><path d="M1700.5,1062.9 A3.5,3.5 0 0 1 1707.5,1062.9 Z" fill="#0671c5"/><circle cx="1714.8" cy="1062.7" r="3.5" fill="#c2c2c7"/><path d="M1711.3,1062.9 A3.5,3.5 0 0 1 1718.3,1062.9 Z" fill="#0671c5"/><circle cx="1725.6" cy="1062.7" r="3.5" fill="#c2c2c7"/><path d="M1722.1,1062.9 A3.5,3.5 0 0 1 1729.1,1062.9 Z" fill="#0671c5"/><circle cx="1736.4" cy="1062.7" r="3.5" fill="#c2c2c7"/><path d="M1732.9,1062.9 A3.5,3.5 0 0 1 1739.9,1062.9 Z" fill="#0671c5"/><circle cx="1747.3" cy="1062.7" r="3.5" fill="#c2c2c7"/><path d="M1743.8,1062.9 A3.5,3.5 0 0 1 1750.8,1062.9 Z" fill="#0671c5"/><circle cx="1758.1" cy="1062.7" r="3.5" fill="#c2c2c7"/><path d="M1754.6,1062.9 A3.5,3.5 0 0 1 1761.6,1062.9 Z" fill="#0671c5"/><circle cx="1768.9" cy="1062.7" r="3.5" fill="#c2c2c7"/><path d="M1765.4,1062.9 A3.5,3.5 0 0 1 1772.4,1062.9 Z" fill="#0671c5"/><circle cx="1779.7" cy="1062.7" r="3.5" fill="#c2c2c7"/><path d="M1776.2,1062.9 A3.5,3.5 0 0 1 1783.2,1062.9 Z" fill="#0671c5"/><circle cx="1790.5" cy="1062.7" r="3.5" fill="#c2c2c7"/><path d="M1787.0,1062.9 A3.5,3.5 0 0 1 1794.0,1062.9 Z" fill="#0671c5"/><circle cx="1801.3" cy="1062.7" r="3.6" fill="#fff"/>
<path d="M2045.8,893.8 V770 Q2192.5,712 2334.4,774 V893.8 Z" fill="#bbbbc0"/>
<path d="M2064,810.3 V784.5 Q2092,776 2120.6,772.5 V810.3 Z" fill="#eeeff4"/>
<path d="M2131.4,810.3 V770.5 Q2157,766.5 2182.8,765.2 V810.3 Z" fill="#eeeff4"/>
<path d="M2195.3,810.3 V765 Q2221,766 2246.9,770 V810.3 Z" fill="#eeeff4"/>
<path d="M2259.8,810.3 V772.5 Q2288,777 2316.8,785.5 V810.3 Z" fill="#eeeff4"/>
<rect x="2064" y="837.2" width="252.8" height="46.7" fill="#eeeff4"/>
<rect x="2126.6" y="840" width="1.8" height="53.8" fill="#8e8e93"/>
<rect x="2189.0" y="840" width="1.8" height="53.8" fill="#8e8e93"/>
<rect x="2252.4" y="840" width="1.8" height="53.8" fill="#8e8e93"/>
<path d="M2035,770 Q2192.5,710.5 2350,775" fill="none" stroke="#0671c5" stroke-width="10.4"/>
<rect x="2102.8" y="809.9" width="174.8" height="30.5" fill="#fff"/>
<g fill="none" stroke="#0671c5" stroke-width="1.5" stroke-linecap="round" stroke-linejoin="round"><path d="M2260.5,817 L2256,826.5 L2259.5,828 L2264,818.5 Z M2262.5,816 L2264.5,817 M2256,829.5 C2259,832.5 2263.5,831.5 2265,827.5 C2266,824.5 2265,822.5 2264,821.5 M2253,834.7 H2267 M2255,832.3 H2262"/></g>
<rect x="2214.2" y="939" width="27.7" height="15.4" rx="2" fill="#dad8d5"/>
<rect x="2217.8" y="871.6" width="20.5" height="68.5" rx="2" fill="#c1bdb8"/>
<path d="M2388,838.3 H2472 C2474,838.3 2475,839 2477,840.5 L2520,870 C2524,873 2526.5,878 2526.8,884 V889 C2526.8,892 2525,893.2 2522,893.2 H2388 C2384,893.2 2381.4,890.5 2381.4,886.5 V845 C2381.4,841 2384,838.3 2388,838.3 Z" fill="#f6f7fb" stroke="#b5b5b8" stroke-width="1.3"/>
<path d="M2469.6,842.6 H2475 L2494.8,857 V863 C2494.8,865 2493.5,866 2492,866 H2472.5 C2470.5,866 2469.6,865 2469.6,863 Z" fill="none" stroke="#b5b5b8" stroke-width="1.1"/>
<rect x="2513.8" y="873" width="13" height="9" rx="3.5" fill="#f6f7fb" stroke="#b5b5b8" stroke-width="1.1"/>
<circle cx="2412.2" cy="894.5" r="10" fill="#f6f7fb" stroke="#b5b5b8" stroke-width="1.1"/>
<circle cx="2412.2" cy="895.3" r="7.4" fill="#f8f9fc" stroke="#b5b5b8" stroke-width="1.2"/>
<circle cx="2505.7" cy="894.5" r="10" fill="#f6f7fb" stroke="#b5b5b8" stroke-width="1.1"/>
<circle cx="2505.7" cy="895.3" r="7.4" fill="#f8f9fc" stroke="#b5b5b8" stroke-width="1.2"/>
<text x="2398.3" y="858.6" font-size="5.6" font-style="italic" font-weight="700" fill="#8a2f8f" textLength="34" lengthAdjust="spacingAndGlyphs">love every drop</text>
<text x="2398.3" y="864.6" font-size="6" font-weight="700" fill="#23338f" textLength="18.5" lengthAdjust="spacingAndGlyphs">anglian</text>
<text x="2417" y="864.6" font-size="6" font-weight="400" fill="#4da3dc" textLength="15" lengthAdjust="spacingAndGlyphs">water</text>
<path d="M2436,850 C2441,848 2444,852 2442,857 C2441,860 2438,863 2436,864 C2437,860 2432,856 2436,850 Z" fill="#cdeaf7" stroke="#2a8fd0" stroke-width="1"/>
<path d="M2408,879.5 C2420,876 2428,884 2436,876 C2440,871 2443,874 2446,872" fill="none" stroke="#3fb54a" stroke-width="1.2"/>
<path d="M2450,866 C2445,866 2444,872 2444.5,874 C2445,878 2448,879 2453,879 V866 Z M2453,866 V879 M2453,868.5 H2462 M2453,875 H2462" fill="none" stroke="#3fb54a" stroke-width="1.3"/>
<ellipse cx="2588.7" cy="911.4" rx="18.7" ry="1.3" fill="#222"/>
<use href="#treeL" transform="translate(2597.6,911.2) scale(-0.58,0.613)"/>
<use href="#treeB" transform="translate(2582.9,911.2) scale(-1.0,1.008)"/>
<path d="M2614,896.6 C2650,895.4 2680,894.6 2707,894.2 L2707,895.8 C2680,896 2650,896.6 2614,897.2 Z" fill="#0d0d0d"/>
<path d="M3095,892.6 L3250,893 L3250,894.3 L3095,895.8 Z" fill="#0d0d0d"/>
<rect x="2707.6" y="741" width="386.8" height="153.4" fill="#fff" stroke="#0d0d0d" stroke-width="2.6"/>
<rect x="2707.3" y="678.2" width="389" height="63.1" fill="#f9b21a" stroke="#0d0d0d" stroke-width="2.9"/>
<line x1="2900.1" y1="678" x2="2900.1" y2="895" stroke="#0d0d0d" stroke-width="2.6"/>
<path d="M2786.2,707 L2804.2,688.5 L2822.2,707 Z" fill="#fff"/>
<rect x="2787.8999999999996" y="706" width="32.8" height="28.2" fill="#fff" stroke="#0d0d0d" stroke-width="2.5"/>
<path d="M2803.7999999999997,706 V734 M2788.2,720 H2820.2" stroke="#0d0d0d" stroke-width="1.6"/>
<path d="M2783.8999999999996,707.6 L2804.2,686.6 L2824.5,707.6" fill="none" stroke="#0d0d0d" stroke-width="3.8" stroke-linejoin="miter"/>
<path d="M2978.4,707 L2996.4,688.5 L3014.4,707 Z" fill="#fff"/>
<rect x="2980.1" y="706" width="32.8" height="28.2" fill="#fff" stroke="#0d0d0d" stroke-width="2.5"/>
<path d="M2996.0,706 V734 M2980.4,720 H3012.4" stroke="#0d0d0d" stroke-width="1.6"/>
<path d="M2976.1,707.6 L2996.4,686.6 L3016.7000000000003,707.6" fill="none" stroke="#0d0d0d" stroke-width="3.8" stroke-linejoin="miter"/>
<rect x="2738" y="759.8" width="50" height="36.6" fill="#fff" stroke="#d4d0ce" stroke-width="2"/>
<path d="M2738,779.3 H2788 M2762,759.8 V796.4" stroke="#d4d0ce" stroke-width="1.7" fill="none"/>
<rect x="2831" y="759.8" width="32" height="36.6" fill="#fff" stroke="#d4d0ce" stroke-width="2"/>
<path d="M2831,779.3 H2863" stroke="#d4d0ce" stroke-width="1.7" fill="none"/>
<rect x="2938.2" y="759.8" width="31.8" height="36.6" fill="#fff" stroke="#d4d0ce" stroke-width="2"/>
<path d="M2938.2,779.3 H2970.0" stroke="#d4d0ce" stroke-width="1.7" fill="none"/>
<rect x="3013.2" y="759.8" width="49.6" height="36.6" fill="#fff" stroke="#d4d0ce" stroke-width="2"/>
<path d="M3013.2,779.3 H3062.7999999999997 M3038.5,759.8 V796.4" stroke="#d4d0ce" stroke-width="1.7" fill="none"/>
<rect x="2738" y="823.2" width="50" height="36.6" fill="#fff" stroke="#d4d0ce" stroke-width="2"/>
<path d="M2738,842.7 H2788 M2762,823.2 V859.8000000000001" stroke="#d4d0ce" stroke-width="1.7" fill="none"/>
<rect x="3013.2" y="823.2" width="49.6" height="36.6" fill="#fff" stroke="#d4d0ce" stroke-width="2"/>
<path d="M3013.2,842.7 H3062.7999999999997 M3038.5,823.2 V859.8000000000001" stroke="#d4d0ce" stroke-width="1.7" fill="none"/>
<rect x="2821.5" y="815.6" width="52.4" height="7.4" fill="#fff" stroke="#cfcccb" stroke-width="1.3"/>
<path d="M2826.7000000000003,893.5 V824.6 M2867.4,893.5 V824.6" fill="none" stroke="#ef4f6d" stroke-width="1.7"/>
<path d="M2825.8,824.9 H2868.3" fill="none" stroke="#ef4f6d" stroke-width="2.8"/>
<circle cx="2836" cy="866.5" r="2.6" fill="#fff" stroke="#0d0d0d" stroke-width="1.9"/>
<rect x="2927.2" y="815.6" width="52.4" height="7.4" fill="#fff" stroke="#cfcccb" stroke-width="1.3"/>
<path d="M2933.4,893.5 V824.6 M2974.1,893.5 V824.6" fill="none" stroke="#ef4f6d" stroke-width="1.7"/>
<path d="M2932.5,824.9 H2975.0" fill="none" stroke="#ef4f6d" stroke-width="2.8"/>
<circle cx="2964.7" cy="866.5" r="2.6" fill="#fff" stroke="#0d0d0d" stroke-width="1.9"/>
<path d="M3096,755.5 H3108 M3120,755.4 H3184" stroke="#c9d8f2" stroke-width="1" opacity="0.8"/>
<path d="M3094,894.7 V872 C3094,866 3099,863.5 3103,864 C3109,864.5 3112.5,869 3112.5,874 V894.7 Z" fill="#7fc97f"/>
<path d="M3104.5,896.4 C3103,890 3106,886 3109,885 C3109,878 3114,874 3119,876 C3122,876 3124,878 3124.5,880 C3128,880 3130,883 3130,885.5 C3133,886 3135,888.5 3135,891 C3137.5,892 3138.5,894.5 3137.5,896.4 Z" fill="#a0d7a0"/>
<path d="M3246,903.2 C3244.5,900 3245,897 3247.5,896 C3247,889 3250,882.5 3255,882 C3259,881.5 3262,884 3263,886 C3266,885 3269,887 3270,890 C3273,890 3275,893 3274.5,896 C3278,896.5 3280,899 3279,901.5 C3278.5,903 3277,903.2 3276,903.2 Z" fill="#a0d7a0"/>
<path d="M3160.5,816 V904 M3146.4,822.3 H3174.8 M3146.4,822.3 V826.5 M3174.8,822.3 V826.5 M3157,840.5 H3164 M3145.8,914.2 H3174.8" stroke="#0d0d0d" stroke-width="1.3" fill="none"/>
<rect x="3157" y="903.8" width="6.6" height="9.5" fill="#f6faeb" stroke="#0d0d0d" stroke-width="1.3"/>
<circle cx="3146.4" cy="829.6" r="2.9" fill="#f9b21a" stroke="#0d0d0d" stroke-width="1"/>
<circle cx="3174.8" cy="829.6" r="2.9" fill="#f9b21a" stroke="#0d0d0d" stroke-width="1"/>
<use href="#meter" x="2766.7" y="929.2"/>
<use href="#meter" x="3041.5" y="929.2"/>
<rect x="2243.7" y="871.6" width="20.8" height="41" rx="2" fill="#c1bdb8"/>
<rect x="2269.5" y="871.6" width="20.8" height="41" rx="2" fill="#c1bdb8"/>
<path d="M369,1005 V1089 M149,1188.4 H296 M1047.5,1392.3 H1132.5" stroke="#3550b4" stroke-width="1.1" fill="none"/>
<circle cx="369" cy="1089.5" r="1.9" fill="#1f3fa6"/>
<circle cx="149" cy="1188.4" r="1.9" fill="#1f3fa6"/>
<circle cx="1047.5" cy="1392.3" r="1.9" fill="#1f3fa6"/>
<circle cx="545.8" cy="389.5" r="34.7" fill="#0671c5"/>
<path transform="translate(545.8,389.5)" d="M6.2,-18.1 H-0.6 C-2,-14.2 -4.4,-12.6 -7.2,-12.3 V-6.2 C-4.6,-6.5 -2.8,-7.3 -1.6,-8.4 V11.4 H6.2 Z" fill="#fff"/>
<circle cx="1409.6" cy="435.2" r="34.7" fill="#0671c5"/>
<text x="1409.6" y="447.3" text-anchor="middle" font-size="42" font-weight="700" fill="#fff">2</text>
<circle cx="2191.7" cy="537.4" r="34.7" fill="#0671c5"/>
<text x="2191.7" y="549.7" text-anchor="middle" font-size="42" font-weight="700" fill="#fff">3</text>
<circle cx="2507.6" cy="1006.4" r="34.7" fill="#0671c5"/>
<text x="2507.6" y="1017.9" text-anchor="middle" font-size="42" font-weight="700" fill="#fff">4</text>
<circle cx="2899.6" cy="512.5" r="34.7" fill="#0671c5"/>
<text x="2899.6" y="526.4" text-anchor="middle" font-size="42" font-weight="700" fill="#fff">5</text>
<text x="171.3" y="228.5" font-size="61.3" font-weight="400" fill="#0671c5" letter-spacing="1.58" textLength="1121.7" lengthAdjust="spacingAndGlyphs" stroke="#0671c5" stroke-width="0.5" stroke-linejoin="round">The story behind your drinking water</text>
<text x="417" y="479.6" font-size="37.4" font-weight="400" fill="#1a1a1f" letter-spacing="0.79" textLength="260.0" lengthAdjust="spacingAndGlyphs" stroke="#1a1a1f" stroke-width="0.75" stroke-linejoin="round">Water sources</text>
<text x="1290.1" y="524.4" font-size="37.4" font-weight="400" fill="#1a1a1f" letter-spacing="0.99" textLength="229.3" lengthAdjust="spacingAndGlyphs" stroke="#1a1a1f" stroke-width="0.75" stroke-linejoin="round">Treating and</text>
<text x="1335" y="569.3" font-size="37.4" font-weight="400" fill="#1a1a1f" letter-spacing="0.61" textLength="150.0" lengthAdjust="spacingAndGlyphs" stroke="#1a1a1f" stroke-width="0.75" stroke-linejoin="round">cleaning</text>
<text x="2055.7" y="626.6" font-size="37.4" font-weight="400" fill="#1a1a1f" letter-spacing="1.64" textLength="272.1" lengthAdjust="spacingAndGlyphs" stroke="#1a1a1f" stroke-width="0.75" stroke-linejoin="round">Quality testing</text>
<text x="2803.6" y="603.6" font-size="37.4" font-weight="400" fill="#1a1a1f" letter-spacing="0.81" textLength="192.9" lengthAdjust="spacingAndGlyphs" stroke="#1a1a1f" stroke-width="0.75" stroke-linejoin="round">Your water</text>
<text x="2436" y="1097.1" font-size="37.4" font-weight="400" fill="#1a1a1f" letter-spacing="0.72" textLength="148.0" lengthAdjust="spacingAndGlyphs" stroke="#1a1a1f" stroke-width="0.75" stroke-linejoin="round">Keeping</text>
<text x="2376.5" y="1143.1" font-size="37.4" font-weight="400" fill="#1a1a1f" letter-spacing="0.96" textLength="266.0" lengthAdjust="spacingAndGlyphs" stroke="#1a1a1f" stroke-width="0.75" stroke-linejoin="round">you connected</text>
<text x="301" y="993.8" font-size="29.5" font-weight="400" fill="#0671c5" letter-spacing="0.40" textLength="135.0" lengthAdjust="spacingAndGlyphs" stroke="#0671c5" stroke-width="0.9" stroke-linejoin="round">Reservoir</text>
<text x="311.3" y="1199.8" font-size="29.5" font-weight="400" fill="#0671c5" textLength="85.7" lengthAdjust="spacingAndGlyphs" stroke="#0671c5" stroke-width="0.9" stroke-linejoin="round">Rivers</text>
<text x="1153" y="1388" font-size="29.5" font-weight="400" fill="#0671c5" letter-spacing="0.65" textLength="186.5" lengthAdjust="spacingAndGlyphs" stroke="#0671c5" stroke-width="0.9" stroke-linejoin="round">Underground</text>
<text x="1153" y="1416.6" font-size="29.5" font-weight="400" fill="#0671c5" letter-spacing="0.08" textLength="108.0" lengthAdjust="spacingAndGlyphs" stroke="#0671c5" stroke-width="0.9" stroke-linejoin="round">sources</text>
<text x="2111.4" y="829.9" font-size="14.8" font-weight="400" fill="#0671c5" textLength="131.8" lengthAdjust="spacingAndGlyphs" stroke="#0671c5" stroke-width="0.5" stroke-linejoin="round">Anglian Water Labs</text>
</svg>
</body></html>
